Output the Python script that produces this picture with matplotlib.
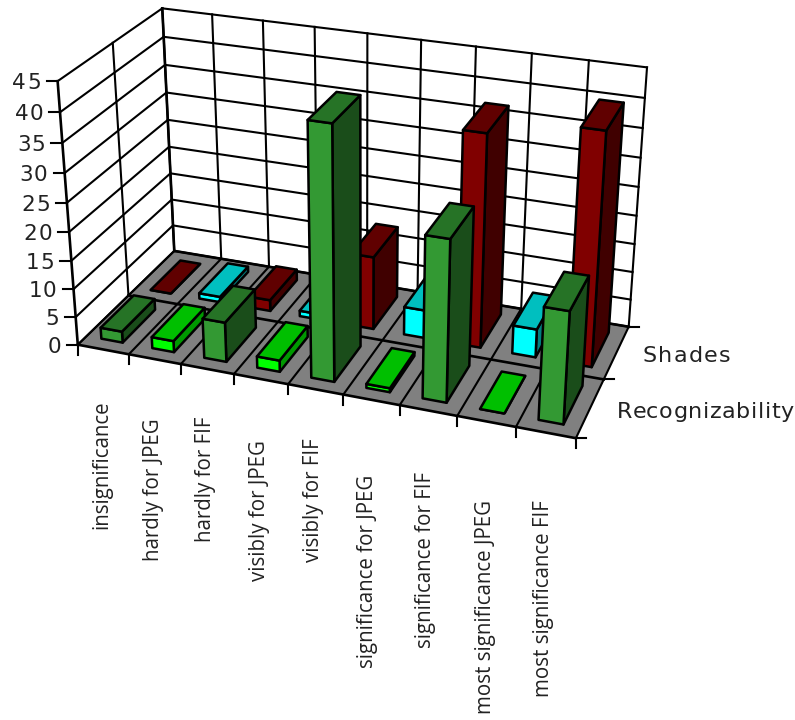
import numpy as np
import matplotlib as mpl
mpl.use('Agg')
import matplotlib.pyplot as plt
from matplotlib.patches import Polygon
from matplotlib.font_manager import FontProperties

categories = ["insignificance", "hardly for JPEG", "hardly for FIF", "visibly for JPEG", "visibly for FIF",
              "significance for JPEG", "significance for FIF", "most significance JPEG", "most significance FIF"]
recognizability = [2, 2, 7, 2, 43, 0.7, 27.5, 0, 19]
shades = [0, 1, 2, 1, 13, 5, 37, 5, 40]
rows = ["Recognizability", "Shades"]
z_ticks = [0, 5, 10, 15, 20, 25, 30, 35, 40, 45]

# front, top and side shade for each bar colour
green = ("#339933", "#267326", "#1a4d1a")
lime = ("#00ff00", "#00bf00", "#009900")
red = ("#800000", "#600000", "#400000")
cyan = ("#00ffff", "#00bfbf", "#008080")

# where the chart box sits on the canvas: (category, row, value) -> pixel
anchors = [
    (0, 0, 0, 78, 345), (0, 2, 0, 174, 251), (9, 2, 0, 628.3, 326.7), (9, 0, 0, 575.7, 438),
    (0, 0, 45, 57.5, 81), (0, 2, 45, 162.5, 8), (9, 2, 45, 647.7, 66.7), (8, 2, 45, 588, 61),
    (1, 0, 0, 129, 354), (3, 0, 0, 234, 374), (7, 0, 0, 456.7, 416.7), (8, 0, 0, 515.7, 426.7),
    (9, 1, 0, 605, 379), (6, 2, 45, 476, 47),
]

def fit_camera(points):
    # direct linear transform on normalised coordinates
    eqs = []
    for u, d, z, px, py in points:
        X = [u/9, d/2, z/45, 1]
        x, y = px/800, py/800
        eqs.append(X + [0, 0, 0, 0] + [-x*v for v in X])
        eqs.append([0, 0, 0, 0] + X + [-y*v for v in X])
    return np.linalg.svd(np.array(eqs))[2][-1].reshape(3, 4)

camera = fit_camera(anchors)

def project(u, d, z):
    p = camera @ np.array([u/9, d/2, z/45, 1])
    return p[0]/p[2]*800, p[1]/p[2]*800

fig = plt.figure(figsize=(7.95, 7.2), dpi=100)
ax = fig.add_axes([0, 0, 1, 1])
ax.set_xlim(0, 795)
ax.set_ylim(720, 0)
ax.axis('off')

GRID = 1.5
HEAVY = 1.9
EDGE = 1.8
TEXT = '#222222'

def line(a, b, lw=GRID):
    ax.plot([a[0], b[0]], [a[1], b[1]], color='black', lw=lw, solid_capstyle='projecting', zorder=2)

def face(corners, color):
    ax.add_patch(Polygon([project(*c) for c in corners], closed=True, fc=color, ec='black', lw=EDGE,
                         joinstyle='round', zorder=3))

def spaced_text(x, y, s, gap, ha='left', size=16):
    # matplotlib has no letter spacing, so each glyph is placed on its own
    prop = FontProperties(family='DejaVu Sans', size=size)
    renderer = fig.canvas.get_renderer()
    width = lambda t: renderer.get_text_width_height_descent(t, prop, False)[0]
    total = width(s) + gap*(len(s)-1)
    start = x - total if ha == 'right' else x
    for k, ch in enumerate(s):
        ax.text(start + width(s[:k]) + k*gap, y, ch, ha='left', va='baseline', fontproperties=prop, color=TEXT)

# floor
ax.add_patch(Polygon([project(0, 0, 0), project(9, 0, 0), project(9, 2, 0), project(0, 2, 0)], closed=True,
                     fc='#808080', ec='none', zorder=1))

# wall grid
for z in z_ticks:
    line(project(0, 0, z), project(0, 2, z))
    line(project(0, 2, z), project(9, 2, z))
for u in range(10):
    line(project(u, 2, 0), project(u, 2, 45))
for d in [0, 1, 2]:
    line(project(0, d, 0), project(0, d, 45), lw=GRID if d == 1 else HEAVY)

# floor grid
for u in range(10):
    line(project(u, 0, 0), project(u, 2, 0))
for d in [0, 1, 2]:
    line(project(0, d, 0), project(9, d, 0), lw=HEAVY)

# ticks
for z in z_ticks:
    x, y = project(0, 0, z)
    line((x, y), (x-11, y))
    spaced_text(x-17, y+8, str(z), 1.0, ha='right', size=15.5)
for u in range(10):
    x, y = project(u, 0, 0)
    line((x, y), (x, y+10))
for d in [0, 1, 2]:
    x, y = project(9, d, 0)
    line((x, y), (x+10, y))

def bar(i, row, h, shade):
    u0, u1 = i+0.29, i+0.71
    d0, d1 = row+0.17, row+0.83
    front, top, side = shade
    face([(u1, d0, 0), (u1, d1, 0), (u1, d1, h), (u1, d0, h)], side)
    face([(u0, d0, 0), (u1, d0, 0), (u1, d0, h), (u0, d0, h)], front)
    face([(u0, d0, h), (u1, d0, h), (u1, d1, h), (u0, d1, h)], top)

# back row first, each row from left to right
for i, h in enumerate(shades):
    bar(i, 1, h, red if i % 2 == 0 else cyan)
for i, h in enumerate(recognizability):
    bar(i, 0, h, green if i % 2 == 0 else lime)

# category labels hang below the floor at staggered heights
label_x = [102, 153, 205, 259, 313, 368, 426, 485, 544]
label_top = [400, 418, 417, 440, 438, 475, 472, 500, 500]
for name, x, y in zip(categories, label_x, label_top):
    ax.text(x, y, name, rotation=90, ha='center', va='top', fontsize=14.8, color=TEXT, family='Open Sans')

spaced_text(643, 362, rows[1], 1.2)
spaced_text(617, 418, rows[0], 0.6)

fig.savefig('out.png', dpi=100)
